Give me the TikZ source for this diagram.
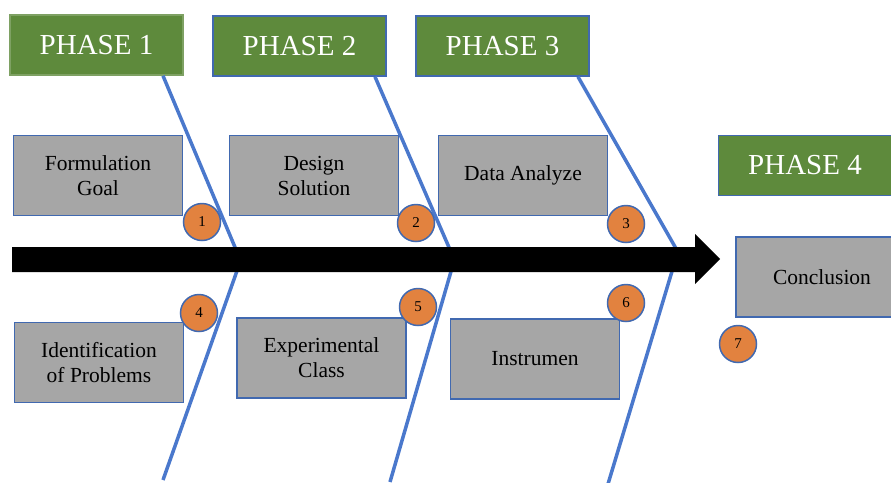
\documentclass[tikz,border=0pt]{standalone}
\usepackage{fontspec}
\setmainfont{Liberation Serif}
\definecolor{phgreen}{HTML}{5E8A3C}
\definecolor{boxblue}{HTML}{4169B0}
\definecolor{boneblue}{HTML}{4A78CC}
\definecolor{boxgray}{HTML}{A6A6A6}
\definecolor{numorange}{HTML}{E2823F}
\begin{document}
\begin{tikzpicture}[x=1pt,y=-1pt,
  phase/.style={draw=boxblue, line width=1.5pt, fill=phgreen, text=white,
    font=\fontsize{29}{34}\selectfont, minimum width=173pt, minimum height=60pt, inner sep=0pt},
  item/.style={draw=boxblue, line width=1.5pt, fill=boxgray, align=center,
    font=\fontsize{21.5}{25}\selectfont, minimum width=169pt, minimum height=80pt, inner sep=0pt},
  num/.style={circle, draw=boxblue, line width=1.5pt, fill=numorange, minimum size=37pt,
    inner sep=0pt, font=\fontsize{15}{17}\selectfont},
  bone/.style={draw=boneblue, line width=3.5pt}]
\useasboundingbox (0,0) rectangle (891,482);

% phases
\node[phase, draw=phgreen!80!white] (p1) at (96.5,45) {PHASE 1};
\node[phase] (p2) at (299.5,46) {PHASE 2};
\node[phase] (p3) at (502.5,46) {PHASE 3};
\node[phase] (p4) at (805,165.5) {PHASE 4};

% items
\node[item] (b1) at (98,175.5) {Formulation\\Goal};
\node[item] (b2) at (314,175.5) {Design\\Solution};
\node[item] (b3) at (523,175.5) {Data Analyze};
\node[item, minimum width=172pt] (b7) at (822,277) {Conclusion};
\node[item] (b4) at (99,362.5) {Identification\\of Problems};
\node[item] (b5) at (321.5,358) {Experimental\\Class};
\node[item] (b6) at (535,359) {Instrumen};

% bone end points
\coordinate (u1) at (237,252);
\coordinate (u2) at (451,252);
\coordinate (u3) at (678,252);
\coordinate (l1s) at (238,268);
\coordinate (l2s) at (452,268);
\coordinate (l3s) at (673,268);
\coordinate (l1e) at (163,480);
\coordinate (l2e) at (390,482);
\coordinate (l3e) at (608,484);

\draw[bone] (p1.south -| 163,0) -- (u1);
\draw[bone] (p2.south -| 375,0) -- (u2);
\draw[bone] (p3.south -| 578,0) -- (u3);
\draw[bone] (l1s) -- (l1e);
\draw[bone] (l2s) -- (l2e);
\draw[bone] (l3s) -- (l3e);

% spine arrow
\fill[black] (12,247) -- (695,247) -- (695,234) -- (720,259) -- (695,284) -- (695,272) -- (12,272) -- cycle;

% numbers
\node[num] (n1) at (202,222) {1};
\node[num] (n2) at (416,223) {2};
\node[num] (n3) at (626,224) {3};
\node[num] (n4) at (199,313) {4};
\node[num] (n5) at (418,307) {5};
\node[num] (n6) at (626,303) {6};
\node[num] (n7) at (738,344) {7};
\end{tikzpicture}
\end{document}
